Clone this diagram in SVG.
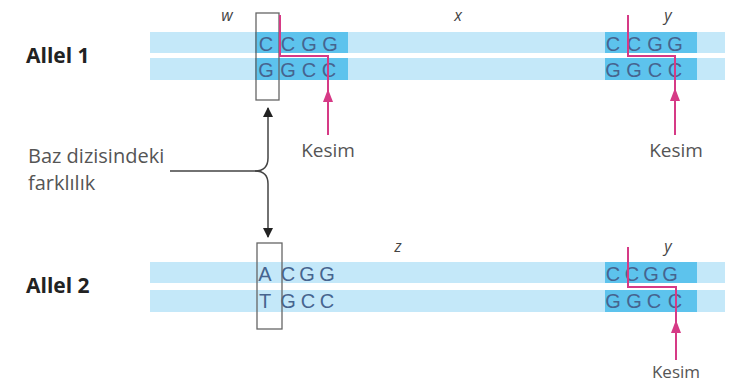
<svg xmlns="http://www.w3.org/2000/svg" width="731" height="389" viewBox="0 0 731 389">
<defs>
<style>
.band{fill:#c4e8f9}
.dark{fill:#5dc3ed}
.base{font-family:"Liberation Sans",Arial,sans-serif;font-size:20px;fill:#46648f;text-anchor:middle}
.box{fill:none;stroke:#666;stroke-width:1.3}
.cut{fill:none;stroke:#d63a86;stroke-width:2}
.cuthead{fill:#d63a86}
.lbl{font-family:"Open Sans","Liberation Sans",sans-serif;fill:#555}
.allel{font-family:"Open Sans","Liberation Sans",sans-serif;font-weight:bold;font-size:21px;fill:#222}
.site{font-family:"Open Sans","Liberation Sans",sans-serif;font-style:italic;font-size:16px;fill:#444;text-anchor:middle}
.conn{fill:none;stroke:#444;stroke-width:1.5}
</style>
<marker id="ah" viewBox="0 0 10 10" refX="9" refY="5" markerWidth="10" markerHeight="11" markerUnits="userSpaceOnUse" orient="auto">
<path d="M0,0 L10,5 L0,10 Z" fill="#222"/>
</marker>
</defs>
<rect width="731" height="389" fill="#fff"/>

<g id="allel1">
<text class="allel" x="26" y="63">Allel 1</text>
<rect class="band" x="150" y="32" width="575" height="21"/>
<rect class="band" x="150" y="58" width="575" height="22"/>
<rect class="dark" x="255" y="32" width="93" height="21"/>
<rect class="dark" x="255" y="58" width="93" height="22"/>
<rect class="dark" x="605" y="32" width="92" height="21"/>
<rect class="dark" x="605" y="58" width="92" height="22"/>
<text class="site" x="227" y="21">w</text>
<text class="site" x="458" y="21">x</text>
<text class="site" x="668" y="21">y</text>
<g id="a1-site1">
<text class="base" x="266" y="51">C</text><text class="base" x="288" y="51">C</text><text class="base" x="309" y="51">G</text><text class="base" x="330" y="51">G</text>
<text class="base" x="266" y="77">G</text><text class="base" x="288" y="77">G</text><text class="base" x="309" y="77">C</text><text class="base" x="329" y="77">C</text>
<rect class="box" x="256" y="13" width="23" height="87"/>
<path class="cut" d="M280,15 V56 H328 V135"/>
<path class="cuthead" d="M328,89 L333,102 L323,102 Z"/>
<text class="lbl" x="328" y="157" font-size="19" text-anchor="middle">Kesim</text>
</g>
<g id="a1-site2">
<text class="base" x="613" y="51">C</text><text class="base" x="634" y="51">C</text><text class="base" x="655" y="51">G</text><text class="base" x="675" y="51">G</text>
<text class="base" x="613" y="77">G</text><text class="base" x="634" y="77">G</text><text class="base" x="655" y="77">C</text><text class="base" x="675" y="77">C</text>
<path class="cut" d="M628,15 V56 H675 V135"/>
<path class="cuthead" d="M675,88 L680,101 L670,101 Z"/>
<text class="lbl" x="676" y="157" font-size="19" text-anchor="middle">Kesim</text>
</g>
</g>

<g id="allel2">
<text class="allel" x="26" y="293">Allel 2</text>
<rect class="band" x="150" y="262" width="575" height="21"/>
<rect class="band" x="150" y="290" width="575" height="22"/>
<rect class="dark" x="605" y="262" width="92" height="21"/>
<rect class="dark" x="605" y="290" width="92" height="22"/>
<text class="site" x="398" y="252">z</text>
<text class="site" x="668" y="252">y</text>
<g id="a2-site1">
<text class="base" x="265" y="281">A</text><text class="base" x="288" y="281">C</text><text class="base" x="307" y="281">G</text><text class="base" x="327" y="281">G</text>
<text class="base" x="265" y="308">T</text><text class="base" x="288" y="308">G</text><text class="base" x="308" y="308">C</text><text class="base" x="327" y="308">C</text>
<rect class="box" x="257" y="243" width="25" height="86"/>
</g>
<g id="a2-site2">
<text class="base" x="613" y="281">C</text><text class="base" x="632" y="281">C</text><text class="base" x="651" y="281">G</text><text class="base" x="670" y="281">G</text>
<text class="base" x="613" y="308">G</text><text class="base" x="634" y="308">G</text><text class="base" x="654" y="308">C</text><text class="base" x="675" y="308">C</text>
<path class="cut" d="M628,247 V287 H676 V360"/>
<path class="cuthead" d="M676,320 L681,333 L671,333 Z"/>
<text class="lbl" x="676" y="378" font-size="17" text-anchor="middle">Kesim</text>
</g>
</g>

<g id="label-fark">
<text class="lbl" x="28" y="163" font-size="20">Baz dizisindeki</text>
<text class="lbl" x="28" y="190" font-size="20">farklılık</text>
</g>

<g id="connectors">
<path class="conn" d="M170,171 H255 Q268,171 268,158 V108" marker-end="url(#ah)"/>
<path class="conn" d="M255,171 Q268,171 268,184 V237" marker-end="url(#ah)"/>
</g>
</svg>
